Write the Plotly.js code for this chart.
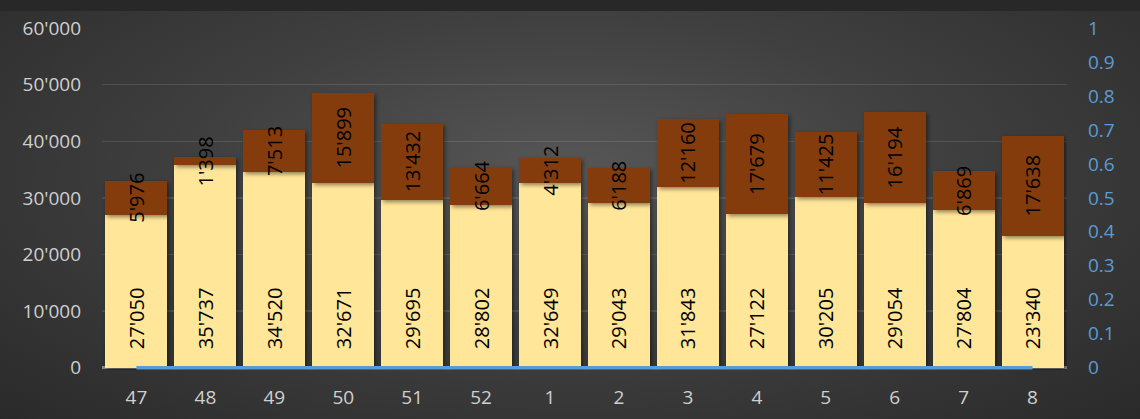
<!DOCTYPE html>
<html>
<head>
<meta charset="utf-8">
<script src="https://cdn.plot.ly/plotly-3.0.1.min.js"></script>
<style>
  html, body { margin: 0; padding: 0; background: #282828; }
  #bg {
    position: absolute; left: 0; top: 11px; width: 1140px; height: 408px;
    background: radial-gradient(ellipse farthest-corner at 50% 40%, #575757 0%, #404040 45%, #2a2a2a 100%);
  }
  #chart { position: absolute; left: 0; top: 0; width: 1140px; height: 419px; }
  .barlayer .point path { filter: drop-shadow(2px 2px 2px rgba(0,0,0,0.45)); }
</style>
</head>
<body>
<div id="bg"></div>
<div id="chart"></div>
<script>
const categories = ['47','48','49','50','51','52','1','2','3','4','5','6','7','8'];
const baseValues = [27050,35737,34520,32671,29695,28802,32649,29043,31843,27122,30205,29054,27804,23340];
const topValues  = [5976,1398,7513,15899,13432,6664,4312,6188,12160,17679,11425,16194,6869,17638];
const lineValues = [0,0,0,0,0,0,0,0,0,0,0,0,0,0];
const leftTicks  = [0,10000,20000,30000,40000,50000,60000];
const rightTicks = [0,0.1,0.2,0.3,0.4,0.5,0.6,0.7,0.8,0.9,1];

const fontFam = '"Open Sans", "Noto Sans", sans-serif';
const pad = 400; // small extension below zero so the zero line is not clipped
const plotTop = 28, zeroY = 368, H = 419;
const plotH = (zeroY - plotTop) * (60000 + pad) / 60000;

const traces = [
  {
    type: 'bar', x: categories, y: baseValues, name: 'base',
    marker: { color: '#FFE699' },
    texttemplate: '\u00a0\u00a0\u00a0%{y:,d}', textposition: 'inside', insidetextanchor: 'start',
    textangle: -90, constraintext: 'none',
    insidetextfont: { family: fontFam, size: 20, color: '#000000' },
    hoverinfo: 'none'
  },
  {
    type: 'bar', x: categories, y: topValues, name: 'top',
    marker: { color: '#843C0C' },
    texttemplate: '%{y:,d}', textposition: 'inside', insidetextanchor: 'middle',
    textangle: -90, constraintext: 'none',
    insidetextfont: { family: fontFam, size: 20, color: '#000000' },
    hoverinfo: 'none'
  },
  {
    type: 'scatter', mode: 'lines', x: categories, y: lineValues, yaxis: 'y2',
    line: { color: '#5B9BD5', width: 3.5 }, hoverinfo: 'none'
  }
];

const layout = {
  width: 1140, height: 419,
  margin: { l: 102, r: 73, t: plotTop, b: H - plotTop - plotH },
  paper_bgcolor: 'rgba(0,0,0,0)', plot_bgcolor: 'rgba(0,0,0,0)',
  barmode: 'stack', bargap: 0.1,
  showlegend: false,
  separators: ".'",
  font: { family: fontFam, size: 19, color: '#cfcfcf' },
  xaxis: {
    type: 'category', categoryorder: 'array', categoryarray: categories,
    showgrid: false, zeroline: false, showline: false, ticks: '',
    ticklabelstandoff: 14,
    tickfont: { family: fontFam, size: 19, color: '#cfcfcf' }
  },
  yaxis: {
    range: [-pad, 60000], tickvals: leftTicks, tickformat: ',d',
    showgrid: true, gridcolor: 'rgba(255,255,255,0.11)', gridwidth: 1.5,
    zeroline: true, zerolinecolor: '#8a8a8a', zerolinewidth: 2.5,
    showline: false, ticks: '', ticklabelstandoff: 20,
    tickfont: { family: fontFam, size: 19, color: '#cfcfcf' }
  },
  yaxis2: {
    overlaying: 'y', side: 'right',
    range: [-pad / 60000, 1], tickvals: rightTicks,
    showgrid: false, zeroline: false, showline: false, ticks: '',
    ticklabelstandoff: 20,
    tickfont: { family: fontFam, size: 19, color: '#5B9BD5' }
  }
};

Plotly.newPlot('chart', traces, layout, { displayModeBar: false, staticPlot: true });
</script>
</body>
</html>
